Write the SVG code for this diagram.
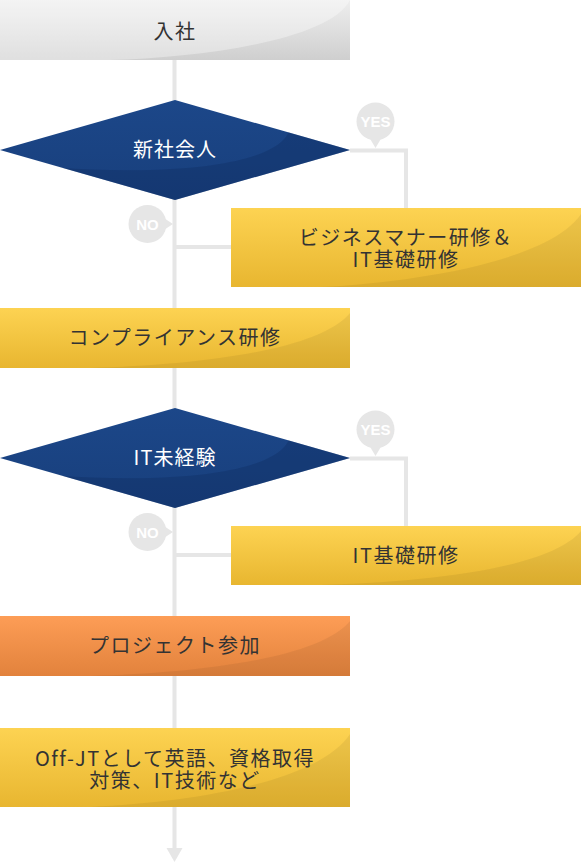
<svg xmlns="http://www.w3.org/2000/svg" width="581" height="864" viewBox="0 0 581 864">
<defs>
<linearGradient id="gGray" x1="0" y1="0" x2="0" y2="1"><stop offset="0" stop-color="#eeeeee"/><stop offset="1" stop-color="#cfcfcf"/></linearGradient>
<linearGradient id="gYel" x1="0" y1="0" x2="0" y2="1"><stop offset="0" stop-color="#fdd352"/><stop offset="1" stop-color="#e8b630"/></linearGradient>
<linearGradient id="gOrg" x1="0" y1="0" x2="0" y2="1"><stop offset="0" stop-color="#fd9d56"/><stop offset="1" stop-color="#e2823c"/></linearGradient>
<linearGradient id="gBlue" x1="0" y1="0" x2="0" y2="1"><stop offset="0" stop-color="#1c4789"/><stop offset="1" stop-color="#183f7c"/></linearGradient>
<clipPath id="cd1"><polygon points="0,150 175,100 350,150 175,200"/></clipPath>
<clipPath id="cd2"><polygon points="0,458 175,408 350,458 175,508"/></clipPath>
<style>
.conn{stroke:#e6e6e6;stroke-width:4;fill:none}
.bub{fill:#e6e6e6}
.bt{font-family:"Liberation Sans",Arial,sans-serif;font-weight:bold;font-size:15px;fill:#ffffff;text-anchor:middle}
.t{font-family:"Noto Sans CJK JP","Noto Sans",sans-serif;font-size:20px;fill:#333333;text-anchor:middle;letter-spacing:1.5px}
.tw{font-family:"Noto Sans CJK JP","Noto Sans",sans-serif;font-size:20px;fill:#ffffff;text-anchor:middle;letter-spacing:1px}
.gloss{fill:#ffffff;opacity:0.35}
.shade{fill:#000000;opacity:0.06}
.dshade{fill:#0f2c5e;opacity:0.35}
</style>
</defs>
<g id="connectors">
<line class="conn" x1="174.5" y1="60" x2="174.5" y2="850"/>
<polyline class="conn" points="350,150.5 406,150.5 406,208"/>
<line class="conn" x1="174.5" y1="247" x2="231" y2="247"/>
<polyline class="conn" points="350,458.5 406,458.5 406,526"/>
<line class="conn" x1="174.5" y1="555" x2="231" y2="555"/>
<polygon fill="#e6e6e6" points="166.5,848 182.5,848 174.5,862"/>
</g>
<g id="label-yes1"><circle class="bub" cx="375.5" cy="121.5" r="19"/><polygon class="bub" points="369,137 382,137 375.5,148"/><text class="bt" x="375.5" y="127">YES</text></g>
<g id="label-no1"><circle class="bub" cx="147.5" cy="224" r="19"/><polygon class="bub" points="163,217.5 163,230.5 173,224"/><text class="bt" x="147.5" y="229.5">NO</text></g>
<g id="label-yes2"><circle class="bub" cx="375.5" cy="429.5" r="19"/><polygon class="bub" points="369,445 382,445 375.5,456"/><text class="bt" x="375.5" y="435">YES</text></g>
<g id="label-no2"><circle class="bub" cx="147.5" cy="532" r="19"/><polygon class="bub" points="163,525.5 163,538.5 173,532"/><text class="bt" x="147.5" y="537.5">NO</text></g>
<g id="n-start">
<rect x="0" y="0" width="350" height="60" fill="url(#gGray)"/>
<path class="gloss" d="M0,0 H350 V0 C330,40 200,58 110,60 H0 Z"/>
<text class="t" x="175" y="39">入社</text>
</g>
<g id="n-d1">
<polygon fill="url(#gBlue)" points="0,150 175,100 350,150 175,200"/>
<path class="dshade" clip-path="url(#cd1)" d="M290,125 C290,150 240,168 150,170 C90,171 40,168 0,160 L0,210 L360,210 L360,125 Z"/>
<text class="tw" x="175" y="157">新社会人</text>
</g>
<g id="n-biz">
<rect x="231" y="208" width="350" height="79" fill="url(#gYel)"/>
<path class="shade" d="M581,214 C550,260 420,282 320,287 H581 Z"/>
<text class="t"><tspan x="406" y="245">ビジネスマナー研修＆</tspan><tspan x="406" y="267">IT基礎研修</tspan></text>
</g>
<g id="n-comp">
<rect x="0" y="308" width="350" height="60" fill="url(#gYel)"/>
<path class="shade" d="M350,313 C320,350 200,365 90,368 H350 Z"/>
<text class="t" x="175" y="345">コンプライアンス研修</text>
</g>
<g id="n-d2">
<polygon fill="url(#gBlue)" points="0,458 175,408 350,458 175,508"/>
<path class="dshade" clip-path="url(#cd2)" d="M290,433 C290,458 240,476 150,478 C90,479 40,476 0,468 L0,518 L360,518 L360,433 Z"/>
<text class="tw" x="175" y="465">IT未経験</text>
</g>
<g id="n-it">
<rect x="231" y="526" width="350" height="59" fill="url(#gYel)"/>
<path class="shade" d="M581,531 C550,568 430,582 320,585 H581 Z"/>
<text class="t" x="406" y="563">IT基礎研修</text>
</g>
<g id="n-proj">
<rect x="0" y="616" width="350" height="60" fill="url(#gOrg)"/>
<path class="shade" d="M350,621 C320,658 200,673 90,676 H350 Z"/>
<text class="t" x="175" y="653">プロジェクト参加</text>
</g>
<g id="n-offjt">
<rect x="0" y="728" width="350" height="79" fill="url(#gYel)"/>
<path class="shade" d="M350,734 C320,780 200,802 90,807 H350 Z"/>
<text class="t"><tspan x="175" y="766">Off-JTとして英語、資格取得</tspan><tspan x="175" y="788">対策、IT技術など</tspan></text>
</g>
</svg>
